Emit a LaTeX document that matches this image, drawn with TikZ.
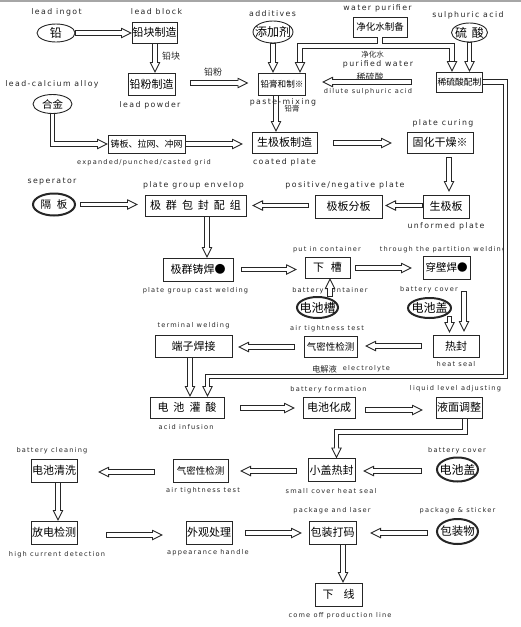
\documentclass[tikz,border=0pt]{standalone}
\usepackage{fontspec}
\newfontfamily\cjk{Noto Sans CJK SC}
\newfontfamily\labf[LetterSpace=18]{DejaVu Sans}
\usetikzlibrary{arrows.meta,shapes.geometric,calc}
\begin{document}
\begin{tikzpicture}[x=1pt,y=-1pt,
  wh/.style 2 args={minimum width=#1pt, minimum height=#2pt},
  box/.style={draw=black!85, line width=0.9pt, inner sep=0pt, outer sep=0pt, font=\cjk\fontsize{11}{11}\selectfont},
  ell/.style={ellipse, draw=black!85, line width=0.9pt, inner sep=0pt, outer sep=0pt, font=\cjk\fontsize{12}{12}\selectfont},
  ellb/.style={ell, line width=2pt},
  big/.style={font=\labf\fontsize{7.8}{8}\selectfont, inner sep=0pt, text=black!85, text height=5.9pt, text depth=1.8pt},
  sml/.style={font=\labf\fontsize{6.6}{7}\selectfont, inner sep=0pt, text=black!85, text height=5pt, text depth=1.5pt},
  zh/.style={font=\cjk\fontsize{#1}{#1}\selectfont, inner sep=0pt, text=black!85},
  harr/.style={draw=white, line width=0.9pt, shorten <=1.2pt,
    -{Triangle[color=black!85, fill=white, length=11pt, width=10.5pt]},
    preaction={draw=black!85, arrows=-, line width=5.2pt, shorten <=0pt, shorten >=10.5pt},
    postaction={draw=white, arrows=-, line width=3.4pt, shorten <=0.9pt, shorten >=9.6pt}},
  bandk/.style={draw=black!85, line width=5.2pt, shorten >=10.5pt},
  bandw/.style={draw=white, line width=3.4pt, shorten >=9.6pt},
  tipo/.style={draw=white, line width=0.9pt, shorten <=2pt, -{Triangle[color=black!85, fill=white, length=11pt, width=10.5pt]}},
]
\useasboundingbox (0,0) rectangle (521,627);
\fill[gray!70] (0,0) rectangle (521,1.5);

% ---------- English labels ----------
\node[big] (tA) at (56.5,12.5) {lead ingot};
\node[big] (tB) at (156.5,12.5) {lead block};
\node[big] (tC) at (272.5,14) {additives};
\node[big] (tD) at (377.5,8.5) {water purifier};
\node[big] (tE) at (468,15) {sulphuric acid};
\node[big] (tF) at (52,84) {lead-calcium alloy};
\node[big] (tG) at (150,105) {lead powder};
\node[big] (tI) at (378,64.5) {purified water};
\node[sml] (tJ) at (368,92) {dilute sulphuric acid};
\node[sml] (tK) at (144,163) {expanded/punched/casted grid};
\node[big] (tL) at (284.5,162) {coated plate};
\node[big] (tM) at (443,123) {plate curing};
\node[big] (tN) at (52,181.5) {seperator};
\node[big] (tO) at (193.5,185.5) {plate group envelop};
\node[big] (tP) at (345,185) {positive/negative plate};
\node[big] (tQ) at (446,226) {unformed plate};
\node[sml] (tR) at (327,249.5) {put in container};
\node[sml] (tS) at (443,249.5) {through the partition welding};
\node[sml] (tT) at (195.5,291) {plate group cast welding};
\node[sml] (tU) at (330,290.5) {battery container};
\node[sml] (tV) at (429,290) {battery cover};
\node[sml] (tW) at (327,329) {air tightness test};
\node[sml] (tX) at (456,364.5) {heat seal};
\node[sml] (tY) at (193.5,326) {terminal welding};
\node[zh=8.3] (tZ1) at (324.5,369.5) {电解液};
\node[sml] (tZ2) at (366.5,369) {electrolyte};
\node[sml] (ta) at (186,428) {acid infusion};
\node[sml] (tb) at (328.5,390) {battery formation};
\node[sml] (tc) at (455.5,389) {liquid level adjusting};
\node[sml] (td) at (52,450.5) {battery cleaning};
\node[sml] (te) at (457,450.5) {battery cover};
\node[sml] (tf) at (331,491.5) {small cover heat seal};
\node[sml] (tg) at (203,491) {air tightness test};
\node[sml] (th) at (57,554.5) {high current detection};
\node[sml] (ti) at (208,553) {appearance handle};
\node[sml] (tj) at (332,511) {package and laser};
\node[sml] (tk) at (457.5,511) {package \& sticker};
\node[sml] (tl) at (340,615.5) {come off production line};

% ---------- Chinese small labels ----------
\node[zh=9] (zA) at (171,56) {铅块};
\node[zh=9] (zB) at (213,72) {铅粉};
\node[zh=7.5] (zC) at (292,109) {铅膏};
\node[zh=7.5] (zD) at (372.5,55) {净化水};
\node[zh=9] (zE) at (370,77) {稀硫酸};

% ---------- boxes ----------
\node[box, wh={45}{21}] (b1) at (154.5,32.5) {铅块制造};
\node[box, wh={47}{22}] (b2) at (151.5,84) {铅粉制造};
\node[box, wh={47}{22}, font=\cjk\fontsize{8.6}{9}\selectfont] (pm) at (282,84) {铅膏和制※};
\node[box, wh={54}{20}, font=\cjk\fontsize{9.5}{10}\selectfont] (wp) at (380,27) {净化水制备};
\node[box, wh={46}{20}, font=\cjk\fontsize{8.8}{9}\selectfont] (da) at (459.5,82) {稀硫酸配制};
\node[box, wh={77}{18}, font=\cjk\fontsize{9}{9}\selectfont] (gr) at (146.5,144) {铸板、拉网、冲网};
\node[box, wh={65}{21}] (cp) at (284.5,142.5) {生极板制造};
\node[box, wh={66}{21}] (cu) at (440,142.5) {固化干燥※};
\node[box, wh={46}{23}] (up) at (446,206.5) {生极板};
\node[box, wh={67}{23}] (pn) at (348.5,206.5) {极板分板};
\node[box, wh={101}{21}] (pg) at (195.5,205.5) {极\kern5pt 群\kern5pt 包\kern5pt 封\kern5pt 配\kern5pt 组};
\node[box, wh={70}{23}] (cw) at (198,269.5) {极群铸焊●};
\node[box, wh={45}{21}] (pc) at (327.5,267.5) {下\kern7pt 槽};
\node[box, wh={47}{23}, font=\cjk\fontsize{10.5}{11}\selectfont] (tw) at (446.5,267.5) {穿壁焊●};
\node[box, wh={46}{22}] (hs) at (456,346) {热封};
\node[box, wh={53}{21}, font=\cjk\fontsize{9.5}{10}\selectfont] (at1) at (330.5,346.5) {气密性检测};
\node[box, wh={77}{22}] (tm) at (193.5,346) {端子焊接};
\node[box, wh={74}{21}] (ai) at (187,407.5) {电\kern5pt 池\kern5pt 灌\kern5pt 酸};
\node[box, wh={52}{21}] (bf) at (329,407.5) {电池化成};
\node[box, wh={46}{21}] (la) at (459,407.5) {液面调整};
\node[box, wh={47}{23}] (sc) at (331.5,470) {小盖热封};
\node[box, wh={55}{23}, font=\cjk\fontsize{9.5}{10}\selectfont] (at2) at (200.5,470.5) {气密性检测};
\node[box, wh={46}{23}] (cl) at (54,470.5) {电池清洗};
\node[box, wh={46}{23}] (hc) at (54,532.5) {放电检测};
\node[box, wh={46}{23}] (ap) at (209,532.5) {外观处理};
\node[box, wh={47}{23}] (pk) at (332.5,532.5) {包装打码};
\node[box, wh={47}{23}] (off) at (338.5,594.5) {下\kern10pt 线};

% ---------- ellipses ----------
\node[ell, wh={38}{18}] (e1) at (56,33) {\makebox[0pt]{铅}};
\node[ell, wh={40}{22}] (e2) at (273,32) {\makebox[0pt]{添加剂}};
\node[ell, wh={36}{19}] (e3) at (469.5,32.5) {\makebox[0pt]{硫\kern5pt 酸}};
\node[ell, wh={39}{19}, font=\cjk\fontsize{10.5}{11}\selectfont] (e4) at (52.5,104) {\makebox[0pt]{合金}};
\node[ellb, wh={42}{22}, font=\cjk\fontsize{10.5}{11}\selectfont] (e5) at (54,204.5) {\makebox[0pt]{隔\kern6pt 板}};
\node[ellb, wh={41}{21}] (e6) at (317.5,307.5) {\makebox[0pt]{电池槽}};
\node[ellb, wh={43}{20}] (e7) at (429.5,308) {\makebox[0pt]{电池盖}};
\node[ellb, wh={41}{24}] (e8) at (457.5,469.5) {\makebox[0pt]{电池盖}};
\node[ellb, wh={41}{25}, font=\cjk\fontsize{11.5}{12}\selectfont] (e9) at (457.5,531.5) {\makebox[0pt]{包装物}};

% ---------- connectors ----------
\draw[harr] (e1.east) -- ($(b1.west)+(0,0.5)$);
\draw[harr] ($(b1.south)+(0.5,0)$) -- ($(b2.north)+(3.5,0)$);
\draw[harr] ($(b2.east)+(15,-1)$) -- ($(pm.west)+(-10,-1)$);
\draw[harr] (e2.south) -- (pm.north -| e2.south);
% water split
\coordinate (wj) at (380,46);
\draw[bandk] (wp.south) -- (wj) -| ($(pm.north)+(18,0)$);
\draw[bandk] (wj) -| ($(da.north)+(-7.5,0)$);
\draw[bandw] (wp.south) -- (wj) -| ($(pm.north)+(18,0)$);
\draw[bandw] (wj) -| ($(da.north)+(-7.5,0)$);
\draw[tipo] (wp.south) -- (wj) -| ($(pm.north)+(18,0)$);
\draw[tipo] (wj) -| ($(da.north)+(-7.5,0)$);
\draw[harr] (e3.south) -- (da.north -| e3.south);
\draw[harr] ($(da.west)+(-24.5,0)$) -- ($(pm.east)+(16.5,-2)$);
\draw[harr] ($(pm.south)+(-6,0)$) -- ($(cp.north)+(-8.5,0)$);
\draw[harr] (e4.south) |- (gr.west);
\draw[harr] (gr.east) -- ($(cp.west)+(-9,1.5)$);
\draw[harr] ($(cp.east)+(16,0.5)$) -- ($(cu.west)+(-15,0.5)$);
\draw[harr] ($(cu.south)+(9,4)$) -- ($(up.north)+(3,-3)$);
\draw[harr] ($(up.west)+(-0.5,-1)$) -- ($(pn.east)+(3,-1)$);
\draw[harr] ($(pn.west)+(-6,-1)$) -- ($(pg.east)+(6,0)$);
\draw[harr] ($(e5.east)+(5,0)$) -- ($(pg.west)+(-7,-1)$);
\draw[harr] ($(pg.south)+(11.5,0)$) -- ($(cw.north)+(9,0)$);
\draw[harr] ($(cw.east)+(8,0)$) -- ($(pc.west)+(-8,2)$);
\draw[harr] ($(pc.east)+(5,0.5)$) -- ($(tw.west)+(-11,0.5)$);
\draw[harr] ($(e6.north)+(12.5,0)$) -- ($(pc.south)+(2.5,0)$);
\draw[harr] ($(tw.south)+(17.5,12)$) -- ($(hs.north)+(8,-3)$);
\draw[harr] ($(e7.east)+(-1.5,8)$) -- ($(hs.north)+(-6.5,-2)$);
\draw[harr] ($(hs.west)+(-11,0)$) -- ($(at1.east)+(8,-0.5)$);
\draw[harr] ($(at1.west)+(-9,0.5)$) -- ($(tm.east)+(6,1)$);
\draw[harr] ($(tm.south)+(-3.5,0)$) -- ($(ai.north)+(3,0)$);
\coordinate (ra) at (505.5,376.5);
\draw[harr] (da.east) -| (ra) -| ($(ai.north)+(20.5,0)$);
\draw[harr] ($(ai.east)+(16,0.5)$) -- ($(bf.west)+(-8,0.5)$);
\draw[harr] ($(bf.east)+(10,2.5)$) -- ($(la.west)+(-13,2.5)$);
\coordinate (lj) at (336.5,432);
\draw[harr] ($(la.south)+(6,0)$) |- (lj) -- ($(sc.north)+(5,0)$);
\draw[harr] ($(e8.west)+(-15,1.5)$) -- ($(sc.east)+(8,1)$);
\draw[harr] ($(sc.west)+(-11,1)$) -- ($(at2.east)+(12,0.5)$);
\draw[harr] ($(at2.west)+(-18,1.5)$) -- ($(cl.east)+(21,1.5)$);
\draw[harr] ($(cl.south)+(4,0)$) -- ($(hc.north)+(4,0)$);
\draw[harr] ($(hc.east)+(29,2.5)$) -- ($(ap.west)+(-23,2.5)$);
\draw[harr] ($(ap.east)+(13,0.5)$) -- ($(pk.west)+(-7,0.5)$);
\draw[harr] ($(e9.west)+(-9,1.5)$) -- ($(pk.east)+(14,0.5)$);
\draw[harr] ($(pk.south)+(10.5,0)$) -- ($(off.north)+(4.5,0)$);

% label drawn over the arrow, as in the reference
\node[big] (tH) at (283,102) {paste-mixing};
\end{tikzpicture}
\end{document}
